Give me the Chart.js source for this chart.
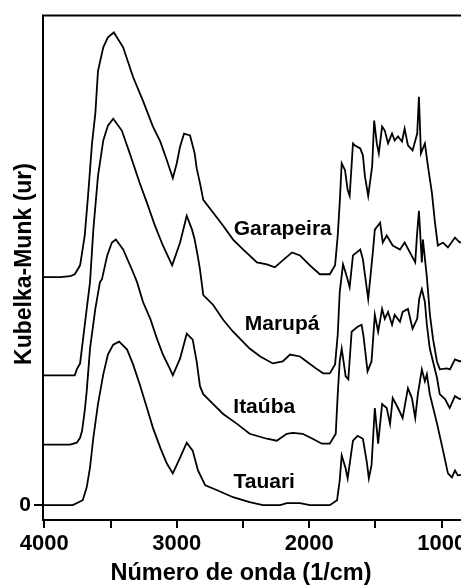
<!DOCTYPE html>
<html>
<head>
<meta charset="utf-8">
<script src="https://cdn.jsdelivr.net/npm/chart.js@4.4.1/dist/chart.umd.min.js"></script>
<style>
html,body{margin:0;padding:0;overflow:hidden;background:#fff;}
#wrap{width:500px;height:585px;}
</style>
</head>
<body>
<div id="wrap"><canvas id="c" width="500" height="585"></canvas></div>
<script>
// ---- data (wavenumber in 1/cm, Kubelka-Munk in arbitrary units, curves offset) ----
const xTickValues = [4000, 3500, 3000, 2500, 2000, 1500, 1000];
const yTickValues = [0];
const seriesNames = ['Garapeira', 'Marupá', 'Itaúba', 'Tauari'];
const xTitle = 'Número de onda (1/cm)';
const yTitle = 'Kubelka-Munk (ur)';

const garapeiraX = [4008,3880,3805,3770,3730,3695,3670,3640,3615,3595,3555,3520,3475,3405,3330,3255,3180,3125,3075,3030,3000,2975,2945,2900,2865,2850,2825,2800,2725,2650,2575,2500,2395,2320,2260,2200,2130,2070,1995,1920,1845,1805,1785,1770,1755,1730,1710,1695,1670,1655,1615,1595,1580,1555,1525,1510,1490,1475,1450,1430,1405,1375,1355,1330,1300,1280,1255,1220,1185,1172,1157,1127,1104,1074,1051,1029,991,953,900,863,818];
const garapeiraY = [2.30,2.30,2.31,2.33,2.42,2.72,3.12,3.65,3.95,4.38,4.62,4.72,4.77,4.62,4.32,4.08,3.82,3.67,3.48,3.30,3.45,3.62,3.75,3.73,3.55,3.40,3.25,3.08,2.95,2.82,2.68,2.58,2.45,2.43,2.40,2.47,2.55,2.52,2.42,2.33,2.33,2.42,2.72,3.05,3.45,3.38,3.18,3.12,3.65,3.63,3.60,3.53,3.32,3.12,3.42,3.88,3.65,3.55,3.82,3.78,3.65,3.75,3.68,3.72,3.67,3.80,3.63,3.58,3.75,4.12,3.55,3.65,3.42,3.15,2.85,2.62,2.65,2.60,2.70,2.65,2.67];

const marupaX = [4008,3805,3770,3755,3730,3710,3680,3655,3630,3595,3555,3520,3480,3415,3355,3280,3225,3165,3105,3035,2975,2925,2885,2865,2840,2825,2800,2725,2650,2575,2450,2370,2275,2200,2145,2070,2020,1940,1895,1845,1805,1785,1770,1745,1715,1695,1670,1615,1595,1555,1520,1505,1465,1445,1415,1370,1315,1280,1240,1200,1187,1172,1150,1142,1112,1089,1066,1036,1014,961,938,900,863,818];
const marupaY = [1.31,1.31,1.31,1.37,1.43,1.65,1.98,2.25,2.78,3.32,3.68,3.83,3.90,3.78,3.55,3.25,3.05,2.82,2.62,2.42,2.65,2.92,2.78,2.68,2.50,2.38,2.12,2.02,1.87,1.75,1.58,1.50,1.43,1.45,1.52,1.50,1.45,1.37,1.33,1.33,1.42,1.72,2.15,2.43,2.30,2.20,2.52,2.58,2.48,2.08,2.55,2.78,2.85,2.65,2.72,2.62,2.58,2.65,2.55,2.45,2.72,2.97,2.45,2.68,2.30,1.92,1.68,1.45,1.37,1.38,1.37,1.47,1.45,1.47];

const itaubaX = [4008,3805,3755,3730,3715,3695,3680,3655,3615,3580,3565,3525,3490,3460,3405,3330,3300,3255,3200,3150,3105,3050,3030,2975,2925,2880,2850,2825,2800,2725,2650,2545,2450,2320,2245,2170,2125,2050,1975,1905,1845,1800,1785,1770,1755,1725,1705,1680,1635,1605,1590,1560,1530,1505,1480,1450,1430,1405,1375,1355,1315,1295,1255,1220,1185,1170,1150,1127,1112,1090,1035,1015,975,940,900,865,820];
const itaubaY = [0.61,0.61,0.63,0.68,0.75,0.95,1.15,1.58,1.98,2.25,2.28,2.52,2.65,2.68,2.58,2.35,2.25,2.05,1.88,1.68,1.52,1.37,1.31,1.48,1.73,1.67,1.45,1.20,1.12,1.02,0.92,0.82,0.72,0.67,0.65,0.72,0.73,0.72,0.67,0.62,0.62,0.72,1.12,1.45,1.58,1.30,1.27,1.75,1.80,1.82,1.70,1.35,1.45,1.92,1.75,1.98,1.88,1.95,1.82,1.92,1.85,1.95,1.98,1.78,1.88,2.08,2.18,2.05,1.82,1.58,1.28,1.12,1.07,0.98,1.10,1.07,1.09];

const tauariX = [4008,3785,3710,3680,3655,3630,3595,3555,3520,3480,3435,3375,3330,3280,3225,3180,3125,3075,3030,2975,2925,2880,2840,2785,2695,2575,2450,2350,2220,2170,2070,1995,1845,1790,1770,1755,1725,1710,1670,1635,1595,1565,1550,1530,1505,1480,1450,1415,1390,1370,1330,1295,1255,1225,1200,1180,1150,1127,1112,1090,1035,990,953,923,900,878,818];
const tauariY = [0.00,0.00,0.05,0.18,0.38,0.68,1.02,1.32,1.52,1.62,1.65,1.57,1.42,1.22,0.98,0.78,0.58,0.42,0.32,0.48,0.63,0.55,0.35,0.20,0.15,0.08,0.03,0.00,0.00,0.02,0.02,0.00,0.00,0.05,0.25,0.50,0.37,0.27,0.65,0.70,0.67,0.43,0.27,0.40,0.98,0.62,1.02,0.98,0.82,1.08,0.98,0.88,1.18,1.08,0.88,1.12,1.37,1.25,1.32,1.12,0.82,0.55,0.32,0.28,0.35,0.30,0.31];

// label anchor (data coordinates) for each curve name
const labelX = [2200, 2205, 2340, 2340];
const labelY = [2.73, 1.77, 0.93, 0.17];

// ---- build ----
const seriesX = [garapeiraX, marupaX, itaubaX, tauariX];
const seriesY = [garapeiraY, marupaY, itaubaY, tauariY];
const datasets = seriesNames.map((name, i) => ({
  label: name,
  data: seriesX[i].map((xv, k) => ({x: xv, y: seriesY[i][k]})),
  borderColor: '#000',
  borderWidth: 1.8,
  pointRadius: 0,
  tension: 0,
  fill: false
}));

const FONT = '"Liberation Sans", Arial, sans-serif';

const annot = {
  id: 'annot',
  afterDraw(chart) {
    const {ctx, chartArea} = chart;
    const xs = chart.scales.x, ys = chart.scales.y;
    ctx.save();
    ctx.fillStyle = '#000';
    ctx.strokeStyle = '#000';
    ctx.lineWidth = 2;
    ctx.beginPath();
    ctx.moveTo(chartArea.left - 1, chartArea.top);
    ctx.lineTo(chartArea.right, chartArea.top);
    ctx.stroke();
    ctx.font = 'bold 21px ' + FONT;
    ctx.textAlign = 'center';
    ctx.textBaseline = 'alphabetic';
    seriesNames.forEach((n, i) => {
      ctx.fillText(n, xs.getPixelForValue(labelX[i]), ys.getPixelForValue(labelY[i]));
    });
    ctx.font = 'bold 23.5px ' + FONT;
    ctx.fillText(xTitle, 241, 580);
    ctx.font = 'bold 23px ' + FONT;
    ctx.translate(31, 264);
    ctx.rotate(-Math.PI / 2);
    ctx.fillText(yTitle, 0, 0);
    ctx.restore();
  }
};

new Chart(document.getElementById('c'), {
  type: 'line',
  data: {datasets},
  options: {
    responsive: false,
    animation: false,
    devicePixelRatio: 1,
    layout: {padding: {top: 11, right: 0, left: 0, bottom: 0}},
    plugins: {legend: {display: false}, tooltip: {enabled: false}},
    scales: {
      x: {
        type: 'linear',
        reverse: true,
        min: 560,
        max: 4010,
        afterBuildTicks: s => { s.ticks = xTickValues.map(v => ({value: v})); },
        afterFit: s => { s.height = 65; },
        ticks: {
          autoSkip: false,
          maxRotation: 0,
          padding: 3,
          color: '#000',
          font: {family: FONT, weight: 'bold', size: 22},
          callback: v => (v % 1000 === 0 ? String(v) : '')
        },
        grid: {display: true, drawOnChartArea: false, drawTicks: true, tickLength: 8, color: '#000', lineWidth: 2},
        border: {display: true, color: '#000', width: 2}
      },
      y: {
        type: 'linear',
        min: -0.15,
        max: 4.94,
        afterBuildTicks: s => { s.ticks = yTickValues.map(v => ({value: v})); },
        afterFit: s => { s.width = 43; },
        ticks: {
          padding: 3,
          color: '#000',
          font: {family: FONT, weight: 'bold', size: 21},
          callback: v => String(v)
        },
        grid: {display: true, drawOnChartArea: false, drawTicks: true, tickLength: 9, color: '#000', lineWidth: 2},
        border: {display: true, color: '#000', width: 2}
      }
    }
  },
  plugins: [annot]
});
</script>
</body>
</html>
